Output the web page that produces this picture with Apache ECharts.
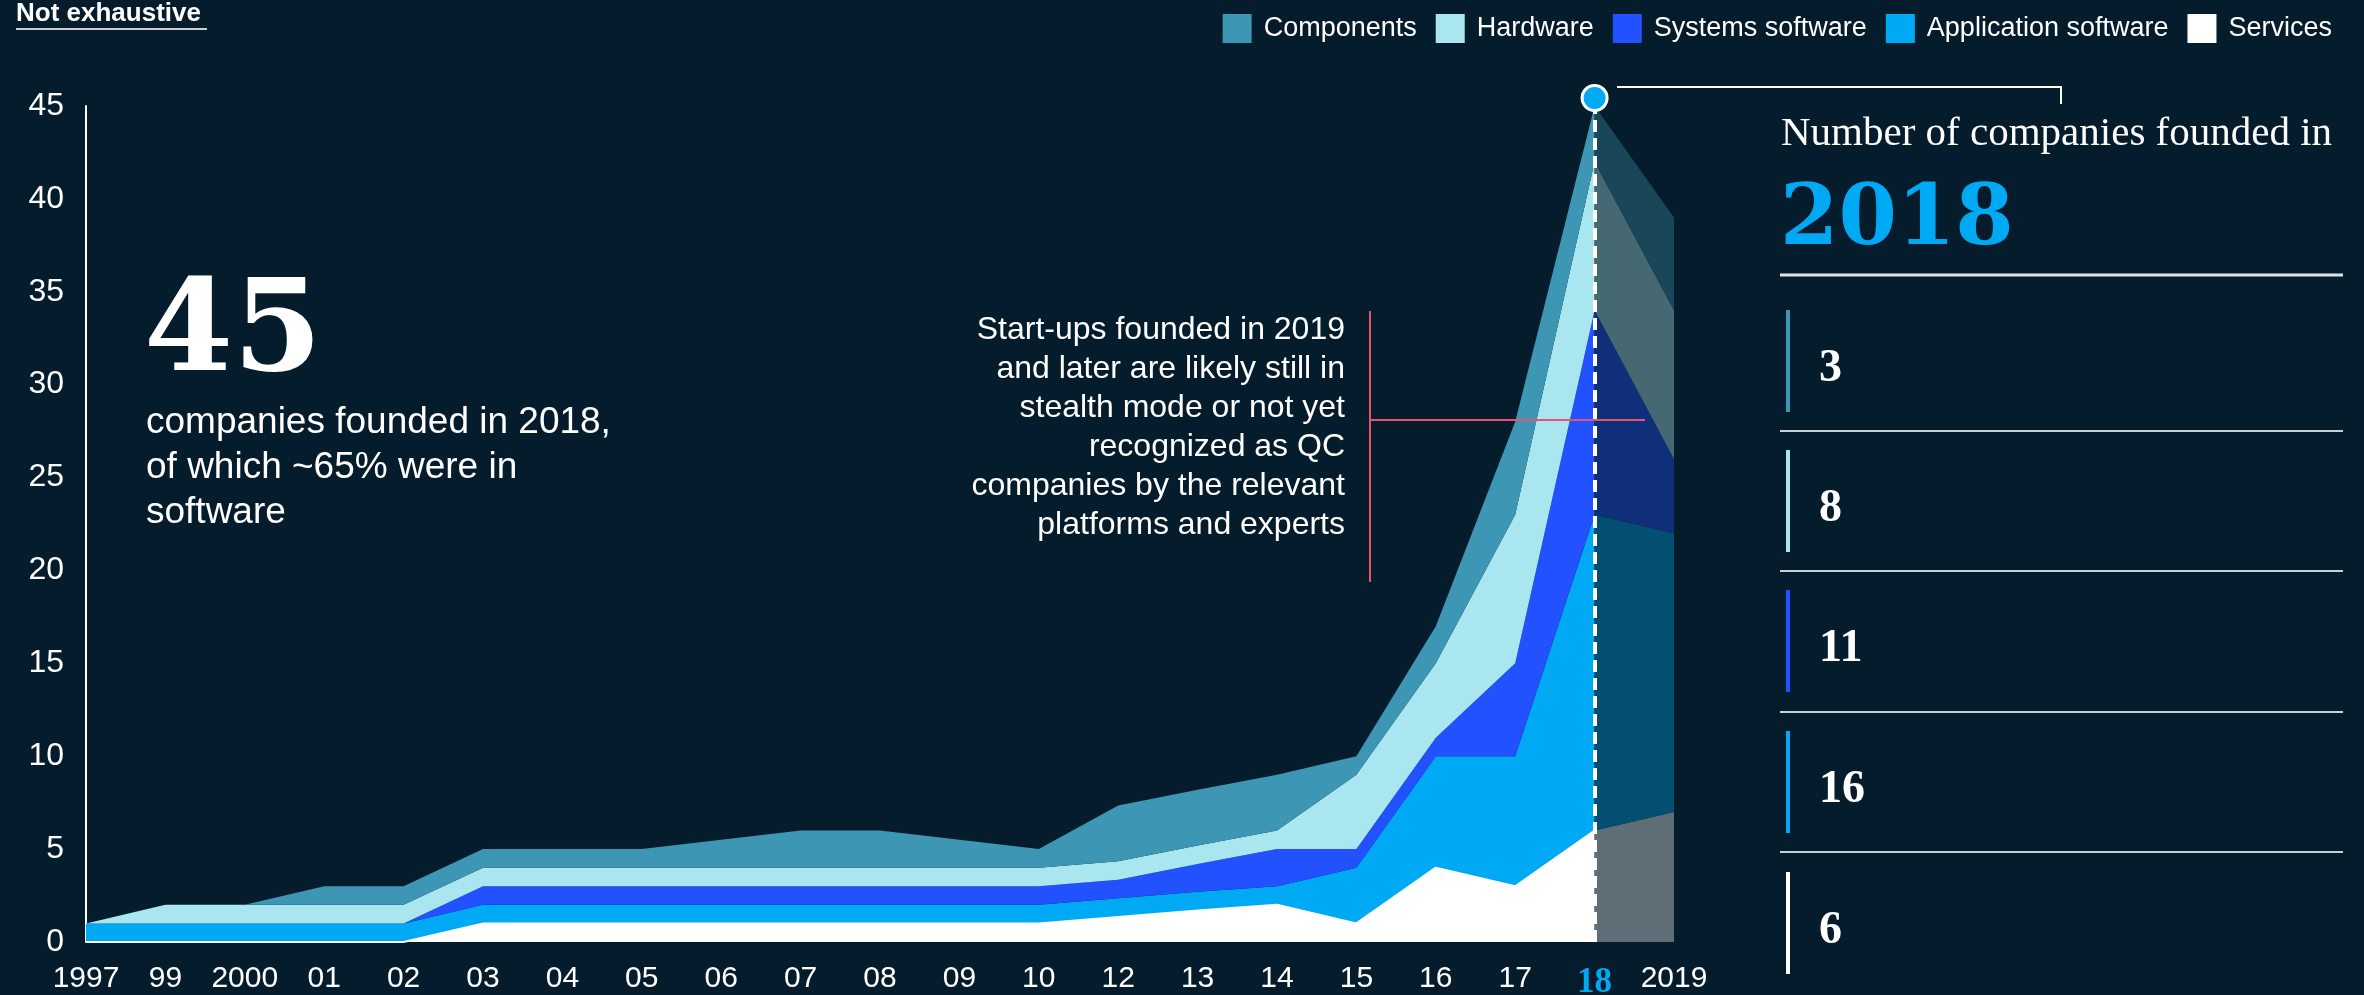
<!DOCTYPE html>
<html>
<head>
<meta charset="utf-8">
<script src="https://cdn.jsdelivr.net/npm/echarts@6/dist/echarts.min.js"></script>
<style>
  html, body { margin: 0; padding: 0; background: #051C2C; }
  #main { width: 2364px; height: 995px; }
</style>
</head>
<body>
<div id="main"></div>
<script>
// years on the axis (98 and 11 are not shown in the original)
const years = ['1997', '99', '2000', '01', '02', '03', '04', '05', '06', '07', '08', '09', '10', '12', '13', '14', '15', '16', '17', '18', '2019'];

// companies founded per year, stacked bottom -> top
const services            = [0, 0, 0, 0, 0, 1, 1, 1, 1, 1, 1, 1, 1, 1.35, 1.7, 2, 1, 4, 3, 6, '-'];
const applicationSoftware = [1, 1, 1, 1, 1, 1, 1, 1, 1, 1, 1, 1, 1, 1, 1, 1, 3, 6, 7, 17, '-'];
const systemsSoftware     = [0, 0, 0, 0, 0, 1, 1, 1, 1, 1, 1, 1, 1, 1, 1.5, 2, 1, 1, 5, 11, '-'];
const hardware            = [0, 1, 1, 1, 1, 1, 1, 1, 1, 1, 1, 1, 1, 1, 1, 1, 4, 4, 8, 8, '-'];
const components          = [0, 0, 0, 1, 1, 1, 1, 1, 1.5, 2, 2, 1.5, 1, 3, 3, 3, 1, 2, 5, 3, '-'];

// muted segment 18 -> 2019 (likely incomplete)
const lateYears = ['18', '2019'];
const lateServices = [6, 7];
const lateApplication = [17, 15];
const lateSystems = [11, 4];
const lateHardware = [8, 8];
const lateComponents = [3, 5];

// right panel, 2018 breakdown
const panelValues = ['3', '8', '11', '16', '6'];
const highlightYear = '18';

const yTicks = { min: 0, max: 45, interval: 5 };

const colors = {
    bg: '#051C2C',
    components: '#3C96B4',
    hardware: '#AAE6F0',
    systems: '#2251FF',
    application: '#00A9F4',
    services: '#FFFFFF',
    componentsLate: '#1A4659',
    hardwareLate: '#456873',
    systemsLate: '#102F7A',
    applicationLate: '#024F72',
    servicesLate: '#5F6D77',
    red: '#E5546C'
};
const panelColors = [colors.components, colors.hardware, colors.systems, colors.application, colors.services];

function late(arr) {
    return years.map(y => {
        const k = lateYears.indexOf(y);
        return k < 0 ? '-' : arr[k];
    });
}

function area(name, data, color, stack, lineW) {
    return {
        name: name,
        type: 'line',
        stack: stack,
        data: data,
        symbol: 'none',
        showSymbol: false,
        areaStyle: { color: color, opacity: 1 },
        lineStyle: { width: lineW || 0, color: color },
        itemStyle: { color: color },
        emphasis: { disabled: true },
        silent: true
    };
}

const hi = years.indexOf(highlightYear);
const peak = services[hi] + applicationSoftware[hi] + systemsSoftware[hi] + hardware[hi] + components[hi];

const sans = 'Liberation Sans, Arial, sans-serif';
const serif = 'Liberation Serif, Georgia, serif';
const wideSerif = 'DejaVu Serif, Georgia, serif';

const chart = echarts.init(document.getElementById('main'));

const graphics = [
    { type: 'text', x: 16, y: 14, style: { text: 'Not exhaustive', fill: '#fff', font: 'bold 26px ' + sans, align: 'left', verticalAlign: 'middle' } },
    { type: 'line', shape: { x1: 16, y1: 29, x2: 207, y2: 29 }, style: { stroke: '#c8ced3', lineWidth: 2 } },
    { type: 'text', x: 144, y: 337, style: { text: '45', fill: '#fff', font: 'bold 128px ' + wideSerif, align: 'left', verticalAlign: 'middle' } },
    { type: 'text', x: 146, y: 468, style: { text: 'companies founded in 2018,\nof which ~65% were in\nsoftware', fill: '#fff', font: '37px ' + sans, lineHeight: 45, align: 'left', verticalAlign: 'middle' } },
    { type: 'text', x: 1345, y: 428, style: { text: 'Start-ups founded in 2019\nand later are likely still in\nstealth mode or not yet\nrecognized as QC\ncompanies by the relevant\nplatforms and experts', fill: '#fff', font: '32px ' + sans, lineHeight: 39, align: 'right', verticalAlign: 'middle' } },
    { type: 'line', z: 100, shape: { x1: 1370, y1: 311, x2: 1370, y2: 582 }, style: { stroke: colors.red, lineWidth: 2 } },
    { type: 'line', z: 100, shape: { x1: 1370, y1: 420, x2: 1645, y2: 420 }, style: { stroke: colors.red, lineWidth: 2 } },
    { type: 'polyline', z: 100, shape: { points: [[1617, 87], [2061, 87], [2061, 104]] }, style: { stroke: '#fff', lineWidth: 2, fill: null } },
    { type: 'text', x: 1781, y: 134, style: { text: 'Number of companies founded in', fill: '#fff', font: '41px ' + serif, align: 'left', verticalAlign: 'middle' } },
    { type: 'text', x: 1780, y: 222, style: { text: '2018', fill: colors.application, font: 'bold 84px ' + wideSerif, align: 'left', verticalAlign: 'middle' } },
    { type: 'line', shape: { x1: 1780, y1: 275, x2: 2343, y2: 275 }, style: { stroke: '#dfe3e6', lineWidth: 3 } }
];

const rowCenters = [361, 501, 641, 782, 923];
const ruleYs = [431, 571, 712, 852];
ruleYs.forEach(y => {
    graphics.push({ type: 'line', shape: { x1: 1780, y1: y, x2: 2343, y2: y }, style: { stroke: '#c9d0d5', lineWidth: 2 } });
});
panelValues.forEach((v, i) => {
    const c = rowCenters[i];
    graphics.push({ type: 'rect', shape: { x: 1786, y: c - 51, width: 4, height: 102 }, style: { fill: panelColors[i] } });
    graphics.push({ type: 'text', x: 1819, y: c + 8, style: { text: v, fill: '#fff', font: 'bold 46px ' + serif, align: 'left', verticalAlign: 'middle' } });
});

chart.setOption({
    backgroundColor: colors.bg,
    animation: false,
    grid: { left: 86, right: 690, top: 106, bottom: 53, containLabel: false, outerBoundsMode: 'none' },
    legend: {
        data: ['Components', 'Hardware', 'Systems software', 'Application software', 'Services'],
        right: 27,
        top: 9,
        icon: 'rect',
        itemWidth: 29,
        itemHeight: 29,
        itemGap: 19,
        selectedMode: false,
        textStyle: { color: '#fff', fontSize: 27, fontFamily: sans, padding: [0, 0, 0, 7] }
    },
    xAxis: {
        type: 'category',
        data: years,
        boundaryGap: false,
        axisLine: { show: false },
        axisTick: { show: false },
        splitLine: { show: false },
        axisLabel: {
            interval: 0,
            color: '#fff',
            fontSize: 30,
            fontFamily: sans,
            margin: 22,
            formatter: function (v) { return v === highlightYear ? '{h|' + v + '}' : v; },
            rich: {
                h: { color: colors.application, fontFamily: serif, fontWeight: 'bold', fontSize: 35, padding: [1, 0, 0, 0] }
            }
        }
    },
    yAxis: {
        type: 'value',
        min: yTicks.min,
        max: yTicks.max,
        interval: yTicks.interval,
        axisLine: { show: true, lineStyle: { color: '#fff', width: 2 } },
        axisTick: { show: false },
        splitLine: { show: false },
        axisLabel: { color: '#fff', fontSize: 32, fontFamily: sans, margin: 22 }
    },
    graphic: graphics,
    series: [
        area('Services', services, colors.services, 'main', 2),
        area('Application software', applicationSoftware, colors.application, 'main'),
        area('Systems software', systemsSoftware, colors.systems, 'main'),
        area('Hardware', hardware, colors.hardware, 'main'),
        area('Components', components, colors.components, 'main'),
        area('Services late', late(lateServices), colors.servicesLate, 'late'),
        area('Application late', late(lateApplication), colors.applicationLate, 'late'),
        area('Systems late', late(lateSystems), colors.systemsLate, 'late'),
        area('Hardware late', late(lateHardware), colors.hardwareLate, 'late'),
        area('Components late', late(lateComponents), colors.componentsLate, 'late'),
        {
            name: 'peak',
            type: 'scatter',
            z: 10,
            silent: true,
            data: [[highlightYear, peak]],
            symbolSize: 25,
            symbolOffset: [0, -8],
            itemStyle: { color: colors.application, borderColor: '#fff', borderWidth: 3, opacity: 1 },
            markLine: {
                silent: true,
                symbol: 'none',
                label: { show: false },
                lineStyle: { color: '#fff', width: 4, type: [12, 6], opacity: 1 },
                data: [[{ coord: [highlightYear, 0] }, { coord: [highlightYear, peak] }]]
            }
        }
    ]
});
</script>
</body>
</html>
